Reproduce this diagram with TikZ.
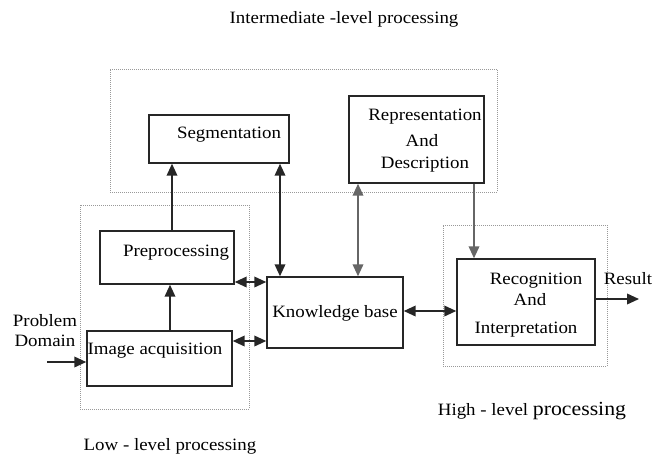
\documentclass[tikz,border=0pt]{standalone}
\usepackage{fontspec}
\setmainfont{Liberation Serif}[FakeStretch=1.09]
\usetikzlibrary{arrows.meta,fit,calc}

\tikzset{
  blk/.style={draw=black!85, line width=1.1pt, inner sep=0pt},
  grp/.style={draw=black!40, densely dotted, line width=0.5pt, inner sep=0pt},
  txt/.style={font=\fontsize{13}{14}\selectfont, inner sep=0pt, align=center},
  flow/.style={draw=black!85, line width=1.2pt, -{Triangle[length=9pt,width=8pt]}},
  dflow/.style={draw=black!85, line width=1.2pt, {Triangle[length=9pt,width=8pt]}-{Triangle[length=9pt,width=8pt]}}
}

\begin{document}
\begin{tikzpicture}[x=0.75pt,y=-0.75pt]
\useasboundingbox (0,0) rectangle (664,457);

% groups
\node[grp, fit={(110,69) (497,192)}] (inter) {};
\node[grp, fit={(80,205) (249,409)}] (low) {};
\node[grp, fit={(443,225) (607,366)}] (high) {};

% boxes
\node[blk, fill=white, fit={(149,115) (289,163)}] (seg) {};
\node[blk, fill=white, fit={(349,96) (484,183)}] (rep) {};
\node[blk, fill=white, fit={(100,231) (234,284)}] (pre) {};
\node[blk, fill=white, fit={(87,331) (232,386)}] (acq) {};
\node[blk, fill=white, fit={(267,277) (403,348)}] (kb) {};
\node[blk, fill=white, fit={(457,259) (595,345)}] (rec) {};

% box texts
\node[txt] (segtxt) at (229,135) {Segmentation};
\node[txt] (reptxt1) at (425,117) {Representation};
\node[txt] (reptxt2) at (422,141) {And};
\node[txt] (reptxt3) at (425,165) {Description};
\node[txt] (pretxt) at (176,253) {Preprocessing};
\node[txt] (acqtxt) at (155,351) {Image acquisition};
\node[txt] (kbtxt) at (335,313) {Knowledge base};
\node[txt] (rectxt1) at (536,281) {Recognition};
\node[txt] (rectxt2) at (530,300) {And};
\node[txt] (rectxt3) at (526,330) {Interpretation};

% free labels
\node[txt] (intertxt) at (344,19) {Intermediate -level processing};
\node[txt] (lowtxt) at (170,446) {Low - level processing};
\node[txt] (hightxt) at (532,411) {High - level {\fontsize{15}{16}\selectfont processing}};
\node[txt] (probtxt) at (45,331) {Problem\\[1pt]Domain};
\node[txt] (restxt) at (628,279) {Result};
\coordinate (probin) at (47,362);
\coordinate (resout) at (639,299);

% connectors
\draw[flow] (probin) -- (probin -| acq.west);
\draw[flow] (170,0 |- acq.north) -- (170,0 |- pre.south);
\draw[flow] (172,0 |- pre.north) -- (172,0 |- seg.south);
\draw[dflow] (0,282 -| pre.east) -- (0,282 -| kb.west);
\draw[dflow] (0,341 -| acq.east) -- (0,341 -| kb.west);
\draw[dflow] (280,0 |- seg.south) -- (280,0 |- kb.north);
\draw[dflow, draw=black!60] (358,0 |- rep.south) -- (358,0 |- kb.north);
\draw[flow, draw=black!60] (474,0 |- rep.south) -- (474,0 |- rec.north);
\draw[dflow] (0,311 -| kb.east) -- (0,311 -| rec.west);
\draw[flow] (0,299 -| rec.east) -- (resout);
\end{tikzpicture}
\end{document}
